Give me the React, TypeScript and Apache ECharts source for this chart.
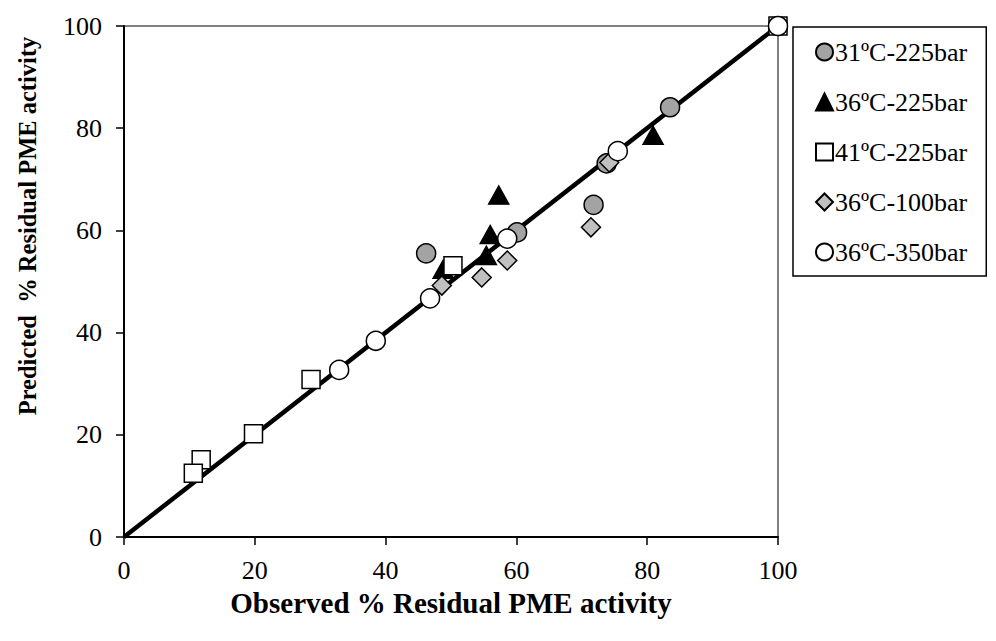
import React, { useEffect, useRef } from "react";
import * as echarts from "echarts";

const xTicks = [0, 20, 40, 60, 80, 100];
const seriesNames = ["31ºC-225bar", "36ºC-225bar", "41ºC-225bar", "36ºC-100bar", "36ºC-350bar"];

const s31_225: number[][] = [
  [46.2, 55.5], [60.1, 59.6], [71.8, 65.0], [73.8, 73.1], [83.5, 84.1],
];
const s36_225: number[][] = [
  [48.8, 52.4], [55.4, 55.1], [56.0, 59.2], [57.3, 66.9], [80.9, 78.6],
];
const s41_225: number[][] = [
  [11.8, 15.1], [10.6, 12.5], [19.8, 20.2], [28.6, 30.8], [50.3, 53.1], [100, 100],
];
const s36_100: number[][] = [
  [48.6, 49.2], [54.7, 50.8], [58.6, 54.1], [71.4, 60.6], [74.2, 73.3],
];
const s36_350: number[][] = [
  [32.9, 32.7], [38.5, 38.4], [46.8, 46.7], [58.6, 58.4], [75.5, 75.5], [100, 100],
];
const fitLine: number[][] = [[0, 0], [100, 100]];

const FONT = "'Liberation Serif', 'Times New Roman', serif";

export default function App() {
  const ref = useRef<HTMLDivElement>(null);
  useEffect(() => {
    if (!ref.current) return;
    const chart = echarts.init(ref.current, undefined, { renderer: "svg" });
    const mk = (name: string, data: number[][], symbol: string, size: any, fill: string) => ({
      name,
      type: "scatter",
      data,
      symbol,
      symbolSize: size,
      clip: false,
      z: 3,
      itemStyle: { color: fill, borderColor: "#000", borderWidth: 1.5, opacity: 1 },
      emphasis: { disabled: true },
    });
    chart.setOption({
      animation: false,
      backgroundColor: "#fff",
      grid: {
        left: 124,
        right: 218,
        top: 26,
        bottom: 104,
        show: true,
        borderColor: "#000",
        borderWidth: 1,
        backgroundColor: "transparent",
      },
      legend: {
        data: seriesNames,
        orient: "vertical",
        left: 793,
        top: 27,
        padding: [12, 19, 11, 22],
        itemGap: 24,
        itemWidth: 17,
        itemHeight: 17,
        borderColor: "#000",
        borderWidth: 1.5,
        textStyle: { fontFamily: FONT, fontSize: 26, color: "#000", padding: [0, 0, 0, -3] },
      },
      xAxis: {
        type: "value",
        min: 0,
        max: 100,
        interval: 20,
        name: "Observed % Residual PME activity",
        nameLocation: "middle",
        nameGap: 51,
        nameTextStyle: { fontFamily: FONT, fontSize: 29, fontWeight: "bold", color: "#000" },
        axisLine: { show: true, onZero: false, lineStyle: { color: "#000", width: 2 } },
        axisTick: { show: true, inside: false, length: 8, lineStyle: { color: "#000", width: 1.5 } },
        axisLabel: { fontFamily: FONT, fontSize: 26, color: "#000", margin: 20 },
        splitLine: { show: false },
      },
      yAxis: {
        type: "value",
        min: 0,
        max: 100,
        interval: 20,
        axisLine: { show: true, onZero: false, lineStyle: { color: "#000", width: 2 } },
        axisTick: { show: true, inside: false, length: 8, lineStyle: { color: "#000", width: 1.5 } },
        axisLabel: { fontFamily: FONT, fontSize: 26, color: "#000", margin: 22 },
        splitLine: { show: false },
      },
      graphic: [
        {
          type: "text",
          x: 27,
          y: 226,
          rotation: Math.PI / 2,
          style: {
            text: "Predicted  % Residual PME activity",
            font: "bold 24.5px " + FONT,
            fill: "#000",
            textAlign: "center",
            textVerticalAlign: "middle",
          },
        },
      ],
      series: [
        {
          name: "fit",
          type: "line",
          data: fitLine,
          symbol: "none",
          z: 2,
          lineStyle: { color: "#000", width: 4.5 },
          emphasis: { disabled: true },
        },
        mk(seriesNames[0], s31_225, "circle", 19, "#a3a3a3"),
        mk(seriesNames[1], s36_225, "triangle", [20, 18], "#000"),
        mk(seriesNames[2], s41_225, "rect", 18, "#fff"),
        mk(seriesNames[3], s36_100, "diamond", [19, 19], "#c0c0c0"),
        mk(seriesNames[4], s36_350, "circle", 19, "#fff"),
      ],
    });
    return () => chart.dispose();
  }, []);
  return <div ref={ref} style={{ position: "fixed", left: 0, top: 0, width: 996, height: 641 }} />;
}
